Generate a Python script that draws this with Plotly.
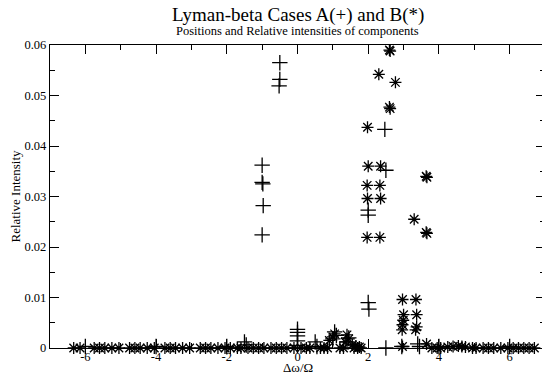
import plotly.graph_objects as go

# Case A (+) components: positions and relative intensities
a_x = [-0.5, -0.5, -0.52, -1.0, -1.0, -0.98, -0.97, -1.0,
       2.47, 2.5, 2.0, 2.0, 2.0, 2.02,
       0.0, 0.0, 0.0, 0.0, 0.0,
       -1.5, -1.45, 0.5, 0.55, 1.05, 1.1, 1.0, 1.45, 1.4,
       2.5, 2.95, 3.4, 3.45,
       -6.0, -4.0, -2.0, 4.0, 6.0]
a_y = [0.0565, 0.0532, 0.0519, 0.0362, 0.0328, 0.0325, 0.0282, 0.0224,
       0.0433, 0.0352, 0.0273, 0.0263, 0.0090, 0.0077,
       0.0037, 0.0031, 0.0024, 0.0014, 0.0005,
       0.0012, 0.0006, 0.0012, 0.0003, 0.0032, 0.0025, 0.0018, 0.0020, 0.0012,
       0.0, 0.0003, 0.0008, 0.0003,
       0.0003, 0.0003, 0.0003, 0.0003, 0.0003]

# Case B (*) components
b_x = [2.6, 2.62, 2.3, 2.77, 2.6, 2.62, 1.98, 2.0, 2.35, 1.97, 2.33, 1.98, 2.35,
       1.97, 2.33, 3.3, 3.64, 3.66, 3.64, 3.66,
       2.97, 3.35, 3.0, 3.37, 2.99, 2.97, 3.37, 2.96, 3.34, 2.97,
       0.9, 1.0, 1.05, 1.4, 1.45, 1.35, 1.55, 1.65, 1.75,
       -6.33, -6.15, -5.75, -5.6, -5.45, -5.25, -5.05, -4.75, -4.6, -4.45, -4.25,
       -4.05, -3.75, -3.6, -3.45, -3.25, -3.05, -2.75, -2.6, -2.45, -2.25, -2.05,
       -1.9, -1.7, -1.6, -1.4, -1.25, -1.1, -0.95, -0.75, -0.6, -0.45, -0.3, -0.1,
       0.1, 0.25, 0.35, 0.65, 0.75, 0.85, 1.2, 1.3, 1.6, 1.7, 1.8,
       3.65, 3.8, 3.95, 4.05, 4.25, 4.4, 4.55, 4.65, 4.75, 4.95, 5.05, 5.25, 5.4,
       5.55, 5.75, 5.95, 6.1, 6.25, 6.4, 6.55, 6.7]
b_y = [0.0590, 0.0588, 0.0542, 0.0526, 0.0477, 0.0474, 0.0437, 0.0360, 0.0360,
       0.0322, 0.0322, 0.0296, 0.0296, 0.0219, 0.0219, 0.0255, 0.0340, 0.0338,
       0.0229, 0.0227,
       0.0096, 0.0096, 0.0066, 0.0066, 0.0055, 0.0046, 0.0042, 0.0036, 0.0036, 0.0003,
       0.0015, 0.0022, 0.0028, 0.0026, 0.0018, 0.0012, 0.0006, 0.0004, 0.0002,
       0.0, 0.0, 0.0, 0.0, 0.0, 0.0, 0.0, 0.0, 0.0, 0.0, 0.0,
       0.0, 0.0, 0.0, 0.0, 0.0, 0.0, 0.0, 0.0, 0.0, 0.0, 0.0,
       0.0, 0.0, 0.0, 0.0, 0.0, 0.0, 0.0, 0.0, 0.0, 0.0, 0.0, 0.0,
       0.0, 0.0, 0.0, 0.0, 0.0, 0.0, 0.0, 0.0, 0.0, 0.0, 0.0,
       0.0008, 0.0, 0.0, 0.0, 0.0002, 0.0003, 0.0004, 0.0003, 0.0002, 0.0, 0.0, 0.0, 0.0,
       0.0, 0.0, 0.0, 0.0, 0.0, 0.0, 0.0, 0.0]

x_ticks = [-6, -4, -2, 0, 2, 4, 6]
y_ticks = [0, 0.01, 0.02, 0.03, 0.04, 0.05, 0.06]
y_ticklabels = ["0", "0.01", "0.02", "0.03", "0.04", "0.05", "0.06"]

FONT = "Liberation Serif"

fig = go.Figure()
fig.add_trace(go.Scatter(
    x=b_x, y=b_y, mode="markers", name="B(*)", cliponaxis=False,
    marker=dict(symbol="asterisk", size=10, color="black",
                line=dict(color="black", width=1.3))))
fig.add_trace(go.Scatter(
    x=a_x, y=a_y, mode="markers", name="A(+)", cliponaxis=False,
    marker=dict(symbol="cross-thin", size=11, color="black",
                line=dict(color="black", width=1.3))))

axis_common = dict(showline=True, linecolor="black", linewidth=1.3, mirror="ticks",
                   ticks="inside", ticklen=9, tickwidth=1.2, tickcolor="black",
                   showgrid=False, zeroline=False, automargin=False,
                   tickfont=dict(family=FONT, size=12.5, color="black"))

fig.update_layout(
    width=542, height=367,
    margin=dict(l=42, r=5, t=37, b=27),
    paper_bgcolor="white", plot_bgcolor="white",
    showlegend=False,
    font=dict(family=FONT, color="black"),
    xaxis=dict(range=[-7, 7], tickvals=x_ticks, ticktext=[str(v) for v in x_ticks],
               minor=dict(dtick=1, ticks="inside", ticklen=5, tickcolor="black", tickwidth=1.2),
               ticklabelstandoff=-3,
               **axis_common),
    yaxis=dict(range=[0, 0.06], tickvals=y_ticks, ticktext=y_ticklabels,
               minor=dict(dtick=0.005, ticks="inside", ticklen=5, tickcolor="black", tickwidth=1.2),
               title=dict(text="Relative Intensity", font=dict(family=FONT, size=13), standoff=2),
               **axis_common),
    annotations=[
        dict(text="Lyman-beta Cases A(+) and B(*)", xref="paper", yref="paper",
             x=0.5, y=1, yshift=30, showarrow=False, xanchor="center", yanchor="middle",
             font=dict(family=FONT, size=19, color="black")),
        dict(text="Positions and Relative intensities of components", xref="paper", yref="paper",
             x=0.5, y=1, yshift=14, showarrow=False, xanchor="center", yanchor="middle",
             font=dict(family=FONT, size=12.5, color="black")),
        dict(text="Δω/Ω", xref="paper", yref="paper",
             x=0.5, y=0, yshift=-19, showarrow=False, xanchor="center", yanchor="middle",
             font=dict(family=FONT, size=13, color="black")),
    ],
)

fig.write_html("out.html")
